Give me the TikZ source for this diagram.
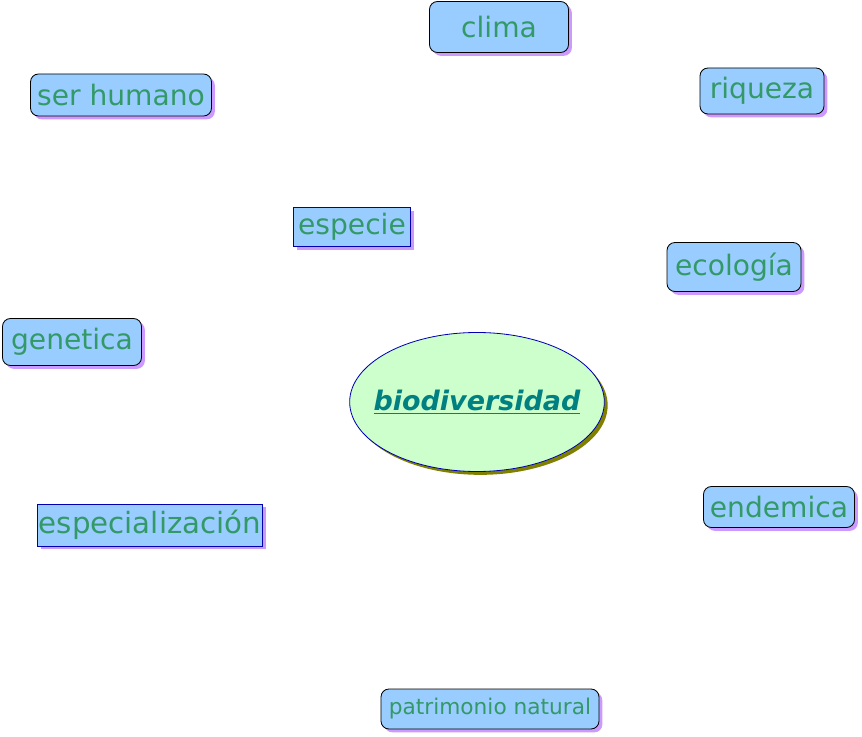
\documentclass[tikz,border=0pt]{standalone}
\usepackage{fontspec}
\setmainfont{DejaVu Sans}
\usetikzlibrary{shadows,shapes.geometric}
\definecolor{boxblue}{RGB}{153,204,255}
\definecolor{shadowlila}{RGB}{204,153,255}
\definecolor{txtgreen}{RGB}{51,153,102}
\definecolor{ovalgreen}{RGB}{204,255,204}
\definecolor{shadowolive}{RGB}{128,128,0}
\definecolor{darkteal}{RGB}{0,128,128}
\begin{document}
\begin{tikzpicture}[x=0.03cm, y=-0.03cm,
    concept/.style={draw=black, line width=0.7pt, fill=boxblue, rounded corners=0.24cm, inner sep=0pt,
      text=txtgreen, font=\fontsize{24}{27}\selectfont,
      drop shadow={shadow xshift=0.1cm, shadow yshift=-0.1cm, fill=shadowlila, opacity=1}},
    sqconcept/.style={concept, draw=blue!70!black, rounded corners=0pt},
    central/.style={ellipse, draw=blue!70!black, line width=0.7pt, fill=ovalgreen, inner xsep=-0.4cm, inner ysep=0pt,
      text=darkteal, font=\fontsize{23}{26}\selectfont\bfseries\itshape,
      drop shadow={shadow xshift=0.1cm, shadow yshift=-0.1cm, fill=shadowolive, opacity=1}}
]
\useasboundingbox (0,0) rectangle (862,737);

\node[central, minimum width=7.62cm, minimum height=4.17cm] (bio) at (477,402) {\underline{biodiversidad}};

\node[concept, minimum width=4.17cm, minimum height=1.53cm] (clima) at (499,27) {clima};
\node[concept, minimum width=5.43cm, minimum height=1.26cm] (humano) at (121,95) {ser humano};
\node[concept, minimum width=3.72cm, minimum height=1.38cm] (riqueza) at (762,91) {riqueza};
\node[sqconcept, minimum width=3.51cm, minimum height=1.17cm] (especie) at (352,227) {especie};
\node[concept, minimum width=4.02cm, minimum height=1.47cm] (ecologia) at (734,267) {ecología};
\node[concept, minimum width=4.17cm, minimum height=1.41cm] (genetica) at (72,342) {genetica};
\node[sqconcept, minimum width=6.75cm, minimum height=1.26cm, font=\fontsize{25}{28}\selectfont] (especial) at (150,525) {especialización};
\node[concept, minimum width=4.53cm, minimum height=1.23cm] (endemica) at (779,507) {endemica};
\node[concept, minimum width=6.54cm, minimum height=1.2cm, font=\fontsize{18.5}{21}\selectfont] (patrimonio) at (490,709) {patrimonio natural};
\end{tikzpicture}
\end{document}
